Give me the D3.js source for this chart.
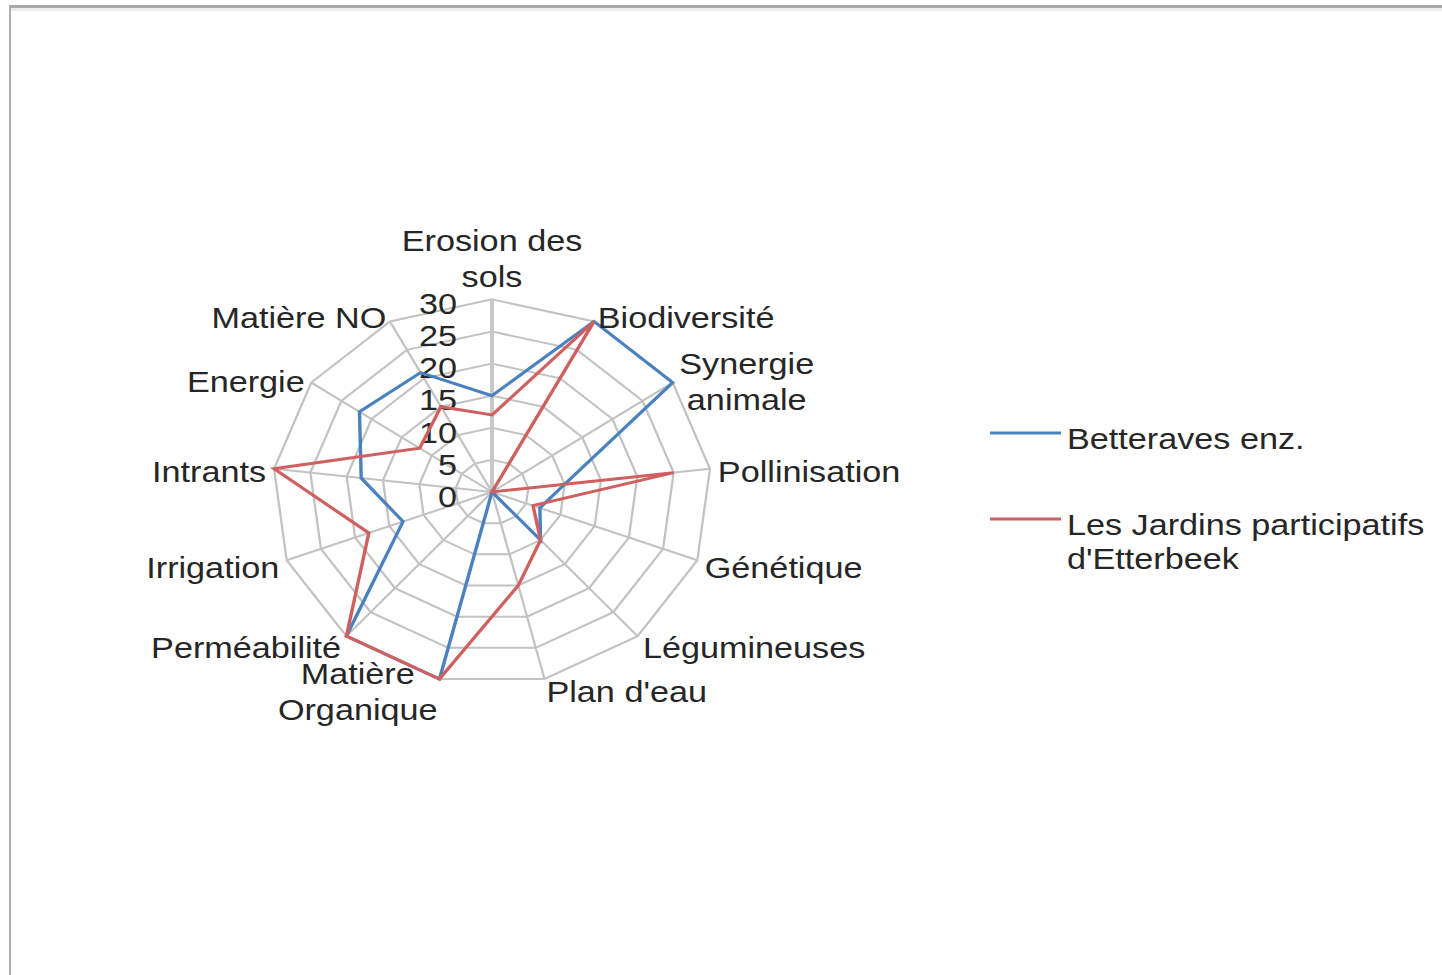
<!DOCTYPE html>
<html><head><meta charset="utf-8">
<script src="https://cdn.jsdelivr.net/npm/d3@7"></script>
<style>
body{margin:0;background:#fff}
text{font-family:"Liberation Sans",Arial,sans-serif;font-size:30px;fill:#262626}
</style>
</head><body>
<svg id="chart" width="1442" height="975"></svg>
<script>
// values, clockwise from the top
const categories=["Erosion des\nsols","Biodiversité","Synergie\nanimale","Pollinisation","Génétique","Légumineuses","Plan d'eau","Matière\nOrganique","Perméabilité","Irrigation","Intrants","Energie","Matière NO"];
const betteraves=[15,30,30,10,7,10,0,30,30,13,18,22,21];
const jardins=[12,30,0,25,6,10,15,30,30,18,30,12,15];
const tickValues=[0,5,10,15,20,25,30];
const seriesNames=["Betteraves enz.","Les Jardins participatifs\nd'Etterbeek"];
const colors=["#4a82c0","#d0605f"];

const svg=d3.select('#chart');
const sx=1.14, cx=492, cy=492, lineH=36;

// frame
svg.append('rect').attr('x',9).attr('y',5).attr('width',1433).attr('height',3).attr('fill','#a9a9a9');
svg.append('rect').attr('x',11).attr('y',8).attr('width',1431).attr('height',3).attr('fill','#ececec');
svg.append('rect').attr('x',9).attr('y',5).attr('width',2).attr('height',970).attr('fill','#b0b0b0');

const r=d3.scaleLinear().domain([0,30]).range([0,192.6]);
const ang=d3.scaleLinear().domain([0,categories.length]).range([0,2*Math.PI]);
const idx=d3.range(categories.length);

const g=svg.append('g').attr('transform',`translate(${cx},${cy}) scale(${sx},1)`);

// grid rings
const ring=d3.lineRadial().angle(i=>ang(i)).curve(d3.curveLinearClosed);
tickValues.filter(t=>t>0).forEach(t=>{
  g.append('path').attr('d',ring.radius(()=>r(t))(idx))
   .attr('fill','none').attr('stroke','#c2c2c2').attr('stroke-width',2);
});
// spokes
g.selectAll('line.spoke').data(idx).join('line').attr('class','spoke')
 .attr('x1',0).attr('y1',0)
 .attr('x2',i=>Math.sin(ang(i))*r(30)).attr('y2',i=>-Math.cos(ang(i))*r(30))
 .attr('stroke',i=>i===0?'#c8c8c8':'#c2c2c2').attr('stroke-width',i=>i===0?3.5:2);

// tick labels
g.selectAll('text.tick').data(tickValues).join('text').attr('class','tick')
 .attr('x',-30.7).attr('y',d=>-r(d)+14.7).attr('text-anchor','end').text(d=>d);

// series
const line=d3.lineRadial().angle((d,i)=>ang(i)).radius(d=>r(d)).curve(d3.curveLinearClosed);
[betteraves,jardins].forEach((s,k)=>{
  g.append('path').datum(s).attr('d',line)
   .attr('fill','none').attr('stroke',colors[k]).attr('stroke-width',3)
   .attr('stroke-linejoin','miter');
});

// category labels
categories.forEach((c,i)=>{
  const s=Math.sin(ang(i)), co=Math.cos(ang(i));
  const vx=s*r(30), vy=-co*r(30);
  const lines=c.split('\n'), n=lines.length;
  let anchor=Math.abs(s)<0.05?'middle':(s>0?'start':'end');
  const lx=vx+s*7;
  const ly=anchor==='middle'? vy-co*(23+(n-1)*lineH/2) : vy-co*9+4;
  const t=g.append('text').attr('text-anchor','middle');
  const spans=lines.map((l,j)=>t.append('tspan').attr('y',ly+(j-(n-1)/2)*lineH+10.7).text(l));
  const w=d3.max(spans,sp=>sp.node().getComputedTextLength());
  const mx=anchor==='middle'?lx:(anchor==='start'?lx+w/2:lx-w/2);
  spans.forEach(sp=>sp.attr('x',mx));
});

// legend
const legendY=[433,519];
seriesNames.forEach((name,k)=>{
  svg.append('line').attr('x1',990).attr('x2',1061).attr('y1',legendY[k]).attr('y2',legendY[k])
     .attr('stroke',colors[k]).attr('stroke-width',3);
  const lt=svg.append('g').attr('transform',`translate(1067,${legendY[k]+5}) scale(${sx},1)`)
     .append('text');
  name.split('\n').forEach((l,j)=>lt.append('tspan').attr('x',0).attr('y',10.7+j*34).text(l));
});
</script>
</body></html>
